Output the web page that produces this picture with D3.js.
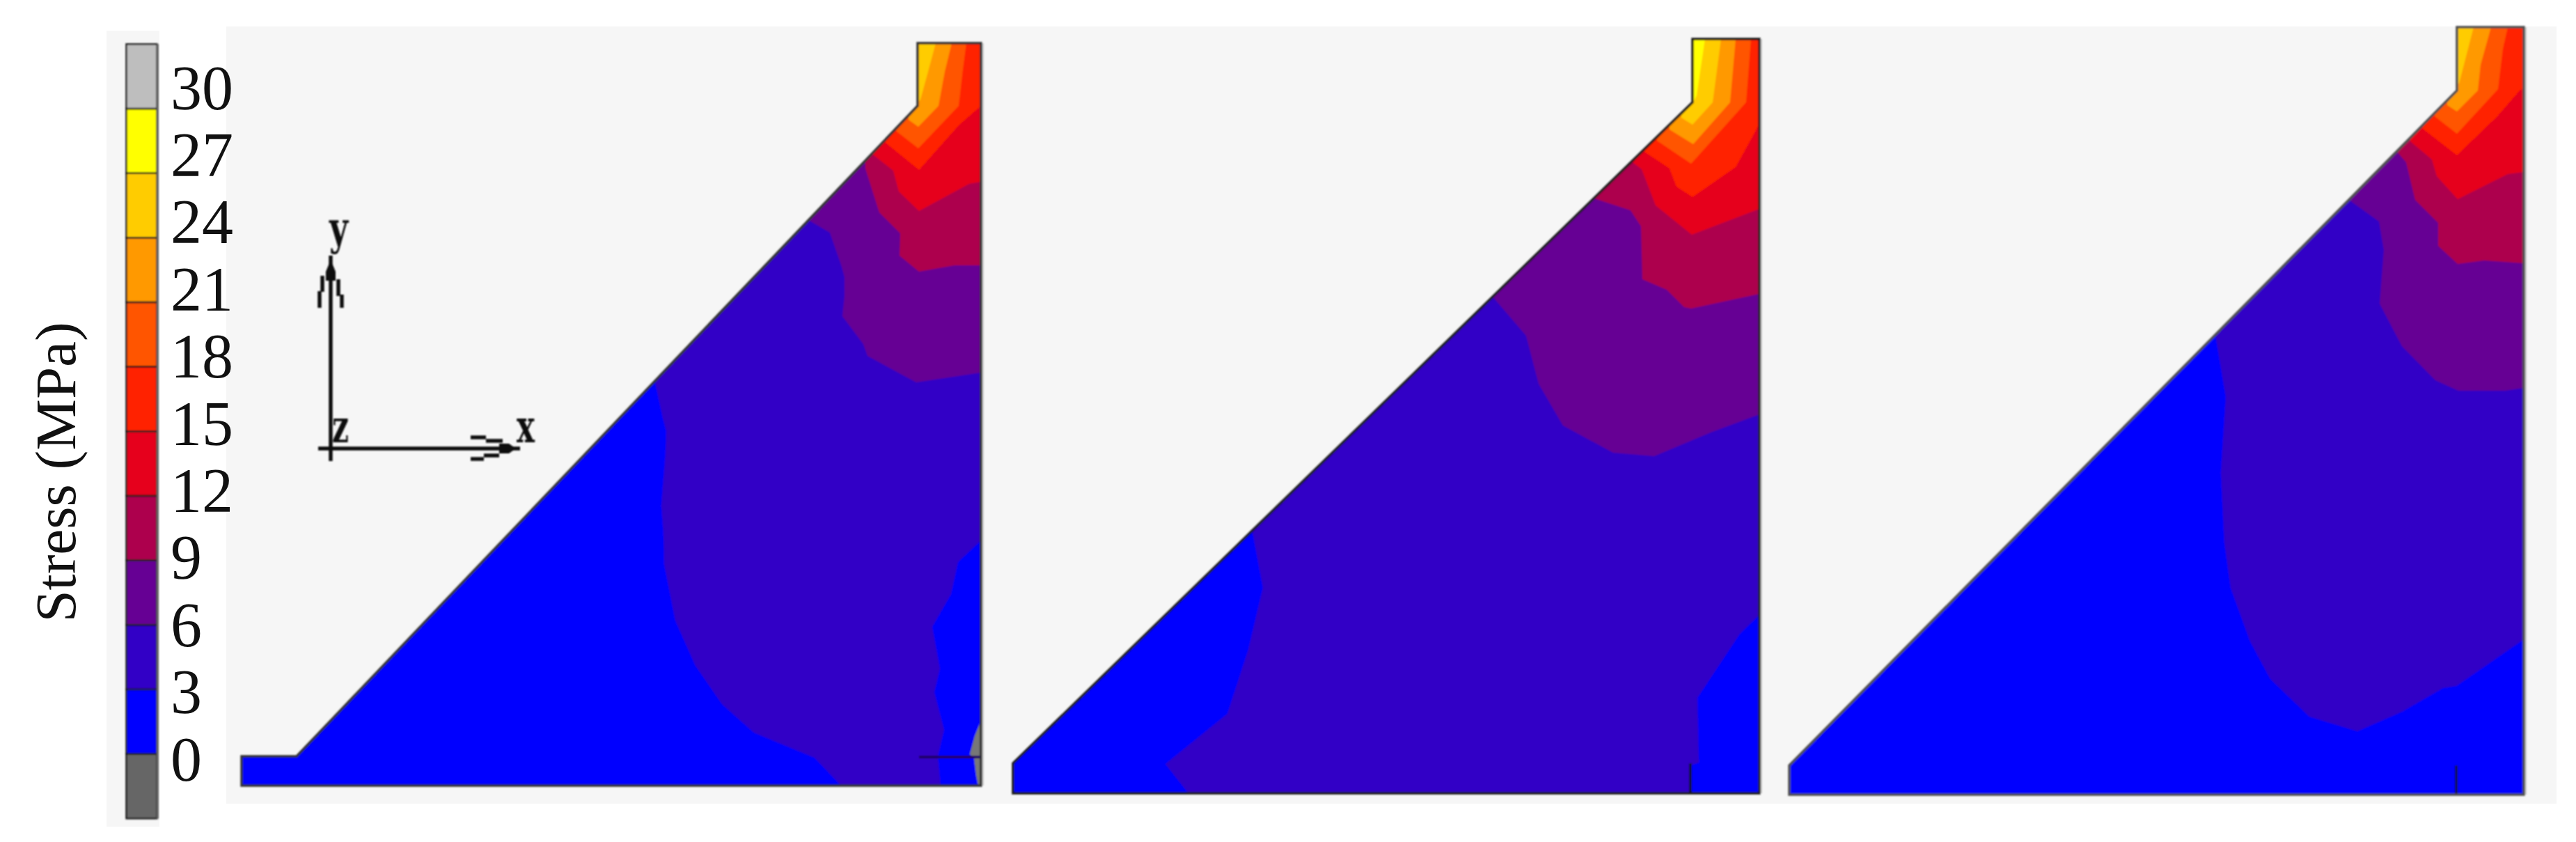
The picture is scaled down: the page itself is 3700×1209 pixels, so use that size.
<!DOCTYPE html>
<html>
<head>
<meta charset="utf-8">
<script src="https://d3js.org/d3.v7.min.js"></script>
<style>
    html, body { margin: 0; background: #fff; }
    svg { display: block; }
</style>
</head>
<body>
<svg></svg>
<script>
// legend values and colours, lowest class first
const levels = [0, 3, 6, 9, 12, 15, 18, 21, 24, 27, 30];
const legendEdges = [-3, 0, 3, 6, 9, 12, 15, 18, 21, 24, 27, 30, 33];
const legendColors = ["#666666", "#0000ff", "#3300c6", "#660094", "#ad004d", "#e6001a",
    "#ff2000", "#ff5500", "#ff9900", "#ffcc00", "#ffff00", "#bebebe"];

// geometry of the three sections, in section units (x from the left end, y up from the base)
const outline1 = [[0, 0], [0, 42], [79, 42], [971, 976], [971, 1066], [1062, 1066], [1062, 0]];
const outline2 = [[0, 0], [0, 43], [976, 992], [976, 1083], [1072, 1083], [1072, 0]];
const outline3 = [[0, 0], [0, 42], [959, 1011], [959, 1102], [1055, 1102], [1055, 0]];

// iso-stress lines, keyed by the level above which the stress sits
const contours1 = {
    3: [[594, 579], [605, 528], [610, 509], [609, 478], [603, 402], [606, 363], [607, 318], [623, 237], [652, 172],
        [690, 117], [736, 76], [823, 40], [861, 0], [1004, 0], [1000, 42], [1009, 80], [995, 134], [1003, 168],
        [992, 228], [1019, 275], [1029, 321], [1062, 352]],
    6: [[816, 811], [845, 794], [862, 745], [866, 730], [866, 703], [863, 674], [893, 634], [899, 617], [969, 579], [1062, 593]],
    9: [[896, 886], [916, 823], [946, 793], [945, 761], [973, 738], [1024, 747], [1062, 747]],
    12: [[907, 906], [936, 883], [944, 853], [973, 825], [1045, 864], [1062, 867]],
    15: [[925, 923], [973, 884], [1030, 948], [1062, 976]],
    18: [[940, 940], [972, 915], [1030, 976], [1036, 1028], [1041, 1066]],
    21: [[958, 956], [972, 946], [1001, 976], [1010, 1025], [1020, 1066]],
    24: [[971, 980], [975, 985], [986, 1025], [997, 1066]]
};
const contours2 = {
    3: [[344, 376], [359, 295], [338, 206], [308, 114], [219, 42], [252, 0], [973, 0], [973, 40], [985, 44],
        [983, 137], [1044, 229], [1072, 256]],
    6: [[689, 713], [737, 657], [755, 588], [790, 528], [862, 489], [921, 484], [1002, 518], [1072, 544]],
    9: [[835, 854], [887, 837], [902, 814], [904, 738], [939, 723], [964, 698], [974, 696], [1072, 717]],
    12: [[890, 906], [903, 896], [923, 844], [975, 802], [1072, 839]],
    15: [[907, 921], [943, 897], [953, 871], [976, 856], [1038, 899], [1072, 961]],
    18: [[925, 937], [974, 904], [1053, 992], [1060, 1083]],
    21: [[943, 953], [977, 932], [1030, 992], [1038, 1083]],
    24: [[960, 970], [976, 960], [1005, 992], [1017, 1083]],
    27: [[976, 994], [978, 994], [982, 1002], [994, 1083]]
};
const contours3 = {
    3: [[612, 661], [627, 571], [620, 462], [625, 362], [634, 297], [662, 220], [691, 166], [747, 112], [816, 91],
        [880, 119], [939, 153], [958, 156], [1055, 223]],
    6: [[804, 854], [847, 823], [854, 782], [848, 705], [880, 644], [928, 595], [961, 580], [1028, 580], [1055, 584]],
    9: [[873, 923], [886, 908], [899, 854], [932, 821], [932, 788], [960, 762], [998, 767], [1055, 763]],
    12: [[892, 938], [923, 912], [930, 888], [960, 855], [1032, 891], [1055, 894]],
    15: [[910, 956], [959, 918], [1017, 974], [1049, 1011], [1055, 1014]],
    18: [[927, 974], [959, 949], [1018, 1013], [1025, 1071], [1032, 1102]],
    21: [[945, 990], [959, 981], [989, 1011], [993, 1048], [1008, 1102]],
    24: [[959, 1021], [962, 1021], [983, 1102]]
};

// low stress patch in the first section
const greyPatch1 = [[1061, 91], [1053, 71], [1046, 45], [1052, 40], [1055, 15], [1058, 0], [1062, 0]];

// element edge lines
const edge1 = [[973, 41], [1062, 41]];
const edge2 = [[973, 43], [973, 0]];
const edge3 = [[958, 42], [958, 0]];

// coordinate triad, drawn in section 1 units
const triadLines = [
    [[128, 761], [128, 466]], [[110, 484], [400, 484]],
    [[116, 732], [116, 709]], [[112, 710], [112, 686]], [[139, 727], [139, 703]], [[144, 705], [144, 686]],
    [[329, 500], [351, 500]], [[351, 495], [375, 495]], [[348, 474], [370, 474]], [[329, 469], [348, 469]]
];
const triadHeads = [
    [[128, 755], [135, 738], [135, 725], [121, 725], [121, 738]],
    [[394, 484], [384, 491], [370, 491], [370, 477], [384, 477]]
];
const triadLabels = [
    {t: "y", x: 126, y: 778, w: 27},
    {t: "z", x: 130, y: 493, w: 24},
    {t: "x", x: 395, y: 493, w: 26}
];

const panels = [
    {x0: 347, base: 1128, outline: outline1, contours: contours1, edge: edge1, edgeColor: "#220066", stroke: "#333333"},
    {x0: 1455, base: 1139, outline: outline2, contours: contours2, edge: edge2, edgeColor: "#111133", stroke: "#1c1c1c"},
    {x0: 2570, base: 1141, outline: outline3, contours: contours3, edge: edge3, edgeColor: "#111155", stroke: "#505050"}
];

const width = 3700;
const height = 1209;

const svg = d3.select("svg").attr("width", width).attr("height", height);

const defs = svg.append("defs");
defs.append("filter").attr("id", "soft")
    .append("feGaussianBlur").attr("stdDeviation", 0.8);

// grey backdrops
svg.append("rect").attr("x", 153).attr("y", 44).attr("width", 76).attr("height", 1143).attr("fill", "#f6f6f6");
svg.append("rect").attr("x", 325).attr("y", 38).attr("width", 3347).attr("height", 1116).attr("fill", "#f6f6f6");

const color = d3.scaleOrdinal(legendEdges.slice(0, -1), legendColors);

// legend bar
const legendY = d3.scaleLinear().domain([0, 30]).range([1082.5, 156]);
const legend = svg.append("g").attr("filter", "url(#soft)");

legend.selectAll("rect")
    .data(legendEdges.slice(0, -1))
    .enter()
    .append("rect")
    .attr("x", 181.5)
    .attr("width", 44)
    .attr("y", d => legendY(d + 3))
    .attr("height", d => legendY(d) - legendY(d + 3))
    .attr("fill", d => color(d))
    .attr("stroke", "#1a1a1a")
    .attr("stroke-width", 2.5);

legend.append("line")
    .attr("x1", 226.5).attr("x2", 226.5)
    .attr("y1", legendY(33)).attr("y2", legendY(-3))
    .attr("stroke", "#666")
    .attr("stroke-width", 3);

// legend numbers
const labelY = d3.scaleLinear().domain([0, 30]).range([1120, 156]);
const labelAxis = d3.axisRight(labelY).tickValues(levels).tickSize(0).tickPadding(0).tickFormat(d3.format("d"));

const labels = svg.append("g").attr("transform", "translate(245,0)").call(labelAxis);
labels.select(".domain").remove();
labels.selectAll("text")
    .attr("dy", 0)
    .attr("font-family", "'Liberation Serif'")
    .attr("font-size", 90)
    .attr("fill", "#111");

svg.append("text")
    .attr("transform", "translate(108,678) rotate(-90)")
    .attr("text-anchor", "middle")
    .attr("font-family", "'Liberation Serif'")
    .attr("font-size", 83)
    .attr("fill", "#111")
    .text("Stress (MPa)");

// the sections
panels.forEach((p, i) => {
    const w = d3.max(p.outline, d => d[0]);
    const h = d3.max(p.outline, d => d[1]);
    const xScale = d3.scaleLinear().domain([0, w]).range([p.x0, p.x0 + w]);
    const yScale = d3.scaleLinear().domain([0, h]).range([p.base, p.base - h]);
    const line = d3.line().x(d => xScale(d[0])).y(d => yScale(d[1]));

    p.xScale = xScale;
    p.yScale = yScale;
    p.line = line;

    defs.append("clipPath").attr("id", "clip" + i)
        .append("path").attr("d", line(p.outline) + "Z");

    const g = svg.append("g").attr("filter", "url(#soft)");

    // pale halo on the right side
    g.append("line")
        .attr("x1", xScale(w) + 2).attr("x2", xScale(w) + 2)
        .attr("y1", yScale(h)).attr("y2", yScale(0))
        .attr("stroke", "#c8c8c8")
        .attr("stroke-width", 4);

    const body = g.append("g").attr("clip-path", `url(#clip${i})`);

    body.append("path").attr("d", line(p.outline) + "Z").attr("fill", color(0));

    // each band is everything on the notch side of its line
    Object.keys(p.contours).map(Number).sort(d3.ascending).forEach(level => {
        const pts = p.contours[level];
        const first = pts[0];
        const last = pts[pts.length - 1];
        const closed = pts.concat([[last[0], h + 50], [first[0], h + 50]]);
        body.append("path")
            .attr("d", line(closed) + "Z")
            .attr("fill", color(level));
    });

    if (i === 0) {
        body.append("path").attr("d", line(greyPatch1) + "Z").attr("fill", "#777");
    }

    g.append("path")
        .attr("d", line(p.edge))
        .attr("fill", "none")
        .attr("stroke", p.edgeColor)
        .attr("stroke-width", 4);

    g.append("path")
        .attr("d", line(p.outline) + "Z")
        .attr("fill", "none")
        .attr("stroke", p.stroke)
        .attr("stroke-width", 3.5);
});

// coordinate triad
const triad = svg.append("g").attr("filter", "url(#soft)");
triad.selectAll("path.bar")
    .data(triadLines)
    .enter()
    .append("path")
    .attr("class", "bar")
    .attr("d", d => panels[0].line(d))
    .attr("fill", "none")
    .attr("stroke", "#111")
    .attr("stroke-width", 5.5);

triad.selectAll("path.head")
    .data(triadHeads)
    .enter()
    .append("path")
    .attr("class", "head")
    .attr("d", d => panels[0].line(d) + "Z")
    .attr("fill", "#111");

triad.selectAll("text")
    .data(triadLabels)
    .enter()
    .append("text")
    .attr("x", d => panels[0].xScale(d.x))
    .attr("y", d => panels[0].yScale(d.y))
    .attr("font-family", "'DejaVu Serif'")
    .attr("font-weight", "bold")
    .attr("font-size", 66)
    .attr("textLength", d => d.w)
    .attr("lengthAdjust", "spacingAndGlyphs")
    .attr("fill", "#111")
    .text(d => d.t);
</script>
</body>
</html>
